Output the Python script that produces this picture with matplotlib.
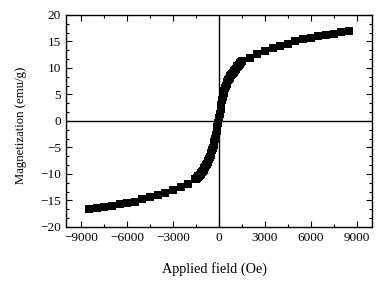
import matplotlib
matplotlib.use("Agg")
from matplotlib import pyplot as plt
from matplotlib.ticker import MultipleLocator, AutoMinorLocator
import numpy as np

# outer branch, sparse points (Oe, emu/g)
h_neg = [-8500, -8000, -7500, -7000, -6500, -6000, -5500, -5000, -4500, -4000,
         -3500, -3000, -2500, -2000, -1600]
m_neg = [-16.7, -16.5, -16.2, -16.0, -15.7, -15.5, -15.2, -14.8, -14.4, -14.0,
         -13.5, -13.0, -12.4, -11.8, -11.0]

h_pos = [1500, 2000, 2500, 3000, 3500, 4000, 4500, 5000, 5500, 6000,
         6500, 7000, 7500, 8000, 8500]
m_pos = [11.3, 11.9, 12.6, 13.2, 13.7, 14.2, 14.6, 15.0, 15.4, 15.7,
         16.0, 16.3, 16.5, 16.7, 17.0]

# dense points near zero field
h_mid = [-1500, -1450, -1400, -1350, -1300, -1250, -1200, -1150, -1100, -1050,
         -1000, -950, -900, -850, -800, -750, -700, -650, -600, -550,
         -500, -450, -400, -350, -300, -250, -200, -150, -100, -50,
         0, 50, 100, 150, 200, 250, 300, 350, 400, 450,
         500, 550, 600, 650, 700, 750, 800, 850, 900, 950,
         1000, 1050, 1100, 1150, 1200, 1250, 1300, 1350, 1400, 1450]
m_mid = [-10.9, -10.75, -10.6, -10.45, -10.3, -10.15, -10.0, -9.8, -9.6, -9.4,
         -9.2, -8.95, -8.7, -8.4, -8.1, -7.8, -7.5, -7.15, -6.8, -6.4,
         -6.0, -5.55, -5.1, -4.6, -4.0, -3.4, -2.7, -1.95, -1.2, -0.4,
         0.5, 1.4, 2.3, 3.1, 3.9, 4.6, 5.2, 5.75, 6.2, 6.65,
         7.0, 7.35, 7.65, 7.95, 8.2, 8.45, 8.7, 8.9, 9.1, 9.3,
         9.5, 9.7, 9.9, 10.1, 10.3, 10.45, 10.6, 10.75, 10.9, 11.05]

plt.rcParams['font.family'] = ['Liberation Serif', 'DejaVu Serif']

fig = plt.figure(figsize=(3.91, 2.83), dpi=100)
ax = fig.add_axes([0.1688, 0.198, 0.7826, 0.749])

H = h_neg + h_mid + h_pos
M = m_neg + m_mid + m_pos
ax.plot(H, M, 's', color='black', markersize=5.4, markeredgewidth=0)

ax.axhline(0, color='black', lw=1)
ax.axvline(0, color='black', lw=1)

ax.set_xlim(-10000, 10000)
ax.set_ylim(-20, 20)
ax.xaxis.set_major_locator(MultipleLocator(3000))
ax.xaxis.set_minor_locator(MultipleLocator(1500))
ax.yaxis.set_major_locator(MultipleLocator(5))
ax.yaxis.set_minor_locator(AutoMinorLocator(3))
ax.tick_params(which='both', direction='in', top=True, right=True, labelsize=9.5)
ax.tick_params(which='major', length=4.5, width=0.8)
ax.tick_params(which='minor', length=2.5, width=0.8)
for s in ax.spines.values():
    s.set_linewidth(1)

ax.set_xlabel("Applied field (Oe)", fontsize=10.3)
ax.xaxis.set_label_coords(0.485, -0.165)
ax.set_ylabel("Magnetization (emu/g)", fontsize=9.2)
ax.yaxis.set_label_coords(-0.127, 0.48)

fig.savefig("out.png", dpi=100)
